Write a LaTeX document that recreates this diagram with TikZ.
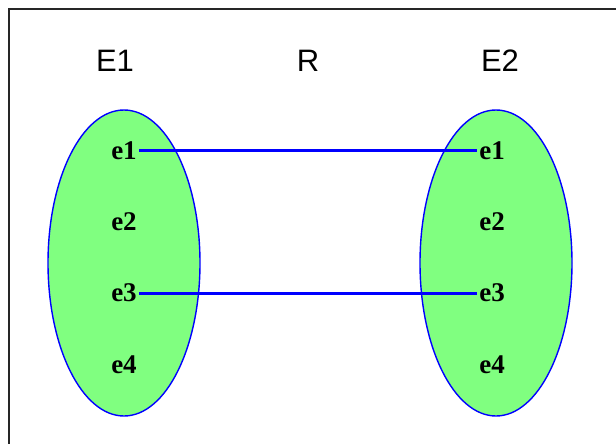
\documentclass[tikz,border=0pt]{standalone}
\usepackage{fontspec}
\setmainfont{Liberation Serif}
\setsansfont{Liberation Sans}
\usetikzlibrary{positioning, shapes.geometric}
\definecolor{setgreen}{HTML}{80FF80}

\begin{document}
\begin{tikzpicture}[
  x=0.5pt, y=-0.5pt,
  title/.style={font=\sffamily\fontsize{15.5}{15.5}\selectfont},
  elem/.style={font=\bfseries\fontsize{13.5}{13.5}\selectfont, inner sep=1pt},
  set/.style={ellipse, draw=blue, line width=0.7pt, fill=setgreen,
    minimum width=76pt, minimum height=153pt, inner sep=0pt},
  link/.style={blue, line width=1.5pt}
]
  \clip (0,0) rectangle (616,444);
  \draw[line width=1pt, black!85] (9,9) rectangle (660,480);

  \node[set] (S1) at (124,263) {};
  \node[set] (S2) at (496,263) {};

  \node[title] (E1) at (115,61) {E1};
  \node[title] (R)  at (308,61) {R};
  \node[title] (E2) at (500,61) {E2};

  % elements of E1
  \node[elem] (a1) at (124,151) {e1};
  \node[elem] (a2) at (124,222) {e2};
  \node[elem] (a3) at (124,293) {e3};
  \node[elem] (a4) at (124,365) {e4};

  % elements of E2
  \node[elem] (b1) at (492,151) {e1};
  \node[elem] (b2) at (492,222) {e2};
  \node[elem] (b3) at (492,293) {e3};
  \node[elem] (b4) at (492,365) {e4};

  \draw[link] (a1) -- (b1);
  \draw[link] (a3) -- (b3);
\end{tikzpicture}
\end{document}
